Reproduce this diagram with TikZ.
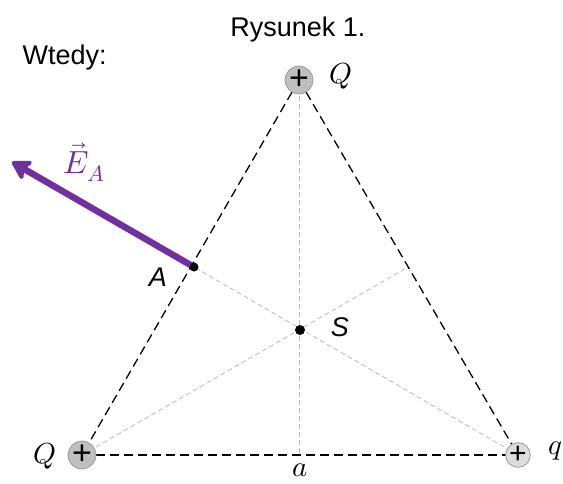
\documentclass[tikz,border=0pt]{standalone}
\usepackage{fontspec}
\usepackage{unicode-math}
\setmainfont{Liberation Sans}
\setmathfont{Latin Modern Math}
\usetikzlibrary{arrows.meta}
\definecolor{purp}{HTML}{7030A0}
\definecolor{chdark}{HTML}{BFBFBF}
\definecolor{chlight}{HTML}{DDDDDD}
\begin{document}
\begin{tikzpicture}[x=1pt,y=-1pt,
  side/.style={dash pattern=on 9pt off 5pt,line width=1.3pt,black},
  median/.style={dash pattern=on 5pt off 3pt,line width=0.8pt,gray!55},
  charge/.style={circle,draw=gray!80,line width=0.8pt,minimum size=27pt,inner sep=0pt,font=\fontsize{34}{34}\selectfont},
  lbl/.style={font=\fontsize{27}{30}\selectfont},
  mlbl/.style={font=\fontsize{29}{30}\selectfont}]
\useasboundingbox (0,0) rectangle (563,483);
\coordinate (T) at (299,80);
\coordinate (L) at (82,455);
\coordinate (R) at (518,455);
\coordinate (A) at (194,267);
\coordinate (S) at (300,330);
\coordinate (Mb) at (299,455);
\coordinate (Mr) at (408,267);
\coordinate (E) at (12,162);
\draw[median] (T) -- (Mb);
\draw[median] (L) -- (Mr);
\draw[median] (R) -- (A);
\draw[side] (T) -- (L);
\draw[side] (T) -- (R);
\draw[side] (L) -- (R);
\node[charge,fill=chdark] (cT) at (T) {\raisebox{-1.5pt}{+}};
\node[charge,fill=chdark] (cL) at (L) {\raisebox{-1.5pt}{+}};
\node[charge,fill=chlight,minimum size=24pt,font=\fontsize{30}{30}\selectfont] (cR) at (R) {\raisebox{-1.5pt}{+}};
\draw[purp,line width=6.5pt,-{Stealth[length=22pt,width=26pt,inset=6pt,round]}] (A) -- (E);
\fill (A) circle (4.5pt);
\fill (S) circle (5pt);
\node[lbl] (title) at (298,30) {Rysunek 1.};
\node[lbl,anchor=west] (wt) at (19,58) {Wtedy:};
\node[mlbl] (lQT) at (341,76) {$Q$};
\node[mlbl] (lQL) at (45,456) {$Q$};
\node[mlbl] (lq) at (555,451) {$q$};
\node[mlbl,inner sep=0pt,anchor=base] (la) at (300,476) {$a$};
\node[lbl] (lA) at (158,277) {\textit{A}};
\node[lbl] (lS) at (340,327) {\textit{S}};
\node[mlbl,text=purp,font=\fontsize{32}{32}\selectfont] (lE) at (84,162) {$\vec{E}_A$};
\end{tikzpicture}
\end{document}
